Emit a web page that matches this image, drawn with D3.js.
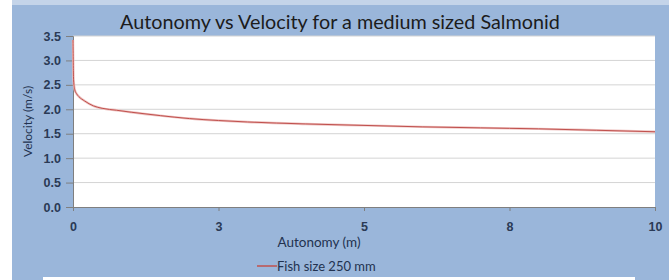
<!DOCTYPE html>
<html>
<head>
<meta charset="utf-8">
<script src="https://cdn.jsdelivr.net/npm/d3@7"></script>
<style>
  html, body { margin: 0; padding: 0; background: #ffffff; }
  svg { display: block; }
</style>
</head>
<body>
<svg></svg>
<script>
// autonomy (m) vs velocity (m/s)
const autonomy = [0, 0.01, 0.03, 0.06, 0.1, 0.2, 0.35, 0.5, 0.75, 1, 1.5, 2, 2.5, 3, 4, 5, 6, 7, 7.5, 8, 9, 10];
const velocity = [3.42, 2.6, 2.4, 2.32, 2.26, 2.17, 2.07, 2.02, 1.98, 1.94, 1.87, 1.81, 1.77, 1.74, 1.70, 1.67, 1.64, 1.62, 1.61, 1.60, 1.57, 1.54];
const xTicks = [0, 2.5, 5, 7.5, 10];
const xTickLabels = ["0", "3", "5", "8", "10"];
const yTicks = [0, 0.5, 1, 1.5, 2, 2.5, 3, 3.5];
const seriesName = "Fish size 250 mm";

const data = autonomy.map((a, i) => ({ x: a, y: velocity[i] }));

var svgWidth = 669,
    svgHeight = 280;
var plot = { left: 73, right: 655, top: 36, bottom: 207 };

var svg = d3.select("svg")
    .attr("width", svgWidth)
    .attr("height", svgHeight)
    .style("font-family", "Lato, 'Open Sans', sans-serif");

// backgrounds
svg.append("rect").attr("x", 0).attr("y", 0).attr("width", svgWidth).attr("height", svgHeight).attr("fill", "#ffffff");
svg.append("rect").attr("x", 12).attr("y", 0).attr("width", svgWidth - 12).attr("height", 5).attr("fill", "#c4d4e9");
svg.append("rect").attr("x", 12).attr("y", 5).attr("width", svgWidth - 12).attr("height", 272).attr("fill", "#9ab6da");
svg.append("rect").attr("x", 12).attr("y", 277).attr("width", 31).attr("height", 3).attr("fill", "#9ab6da");
svg.append("rect").attr("x", 635).attr("y", 277).attr("width", 34).attr("height", 3).attr("fill", "#9ab6da");

var x = d3.scaleLinear().domain([0, 10]).range([plot.left, plot.right]);
var y = d3.scaleLinear().domain([0, 3.5]).range([plot.bottom, plot.top]);

// plot area
svg.append("rect")
    .attr("x", plot.left).attr("y", plot.top)
    .attr("width", plot.right - plot.left).attr("height", plot.bottom - plot.top)
    .attr("fill", "#ffffff");

// gridlines
svg.append("g")
    .selectAll("line")
    .data(yTicks.filter(d => d > 0))
    .join("line")
    .attr("x1", plot.left).attr("x2", plot.right)
    .attr("y1", d => y(d)).attr("y2", d => y(d))
    .attr("stroke", "#d4d4d4")
    .attr("stroke-width", 1);

// y axis
var yAxis = svg.append("g")
    .attr("transform", "translate(" + plot.left + ",0)")
    .call(d3.axisLeft(y).tickValues(yTicks).tickFormat(d3.format(".1f")).tickSize(7).tickPadding(5));
yAxis.select(".domain").attr("stroke", "#7f7f7f");
yAxis.selectAll(".tick line").attr("stroke", "#7f7f7f");
yAxis.selectAll(".tick text")
    .attr("fill", "#2a3a55")
    .style("font-size", "12.5px")
    .style("font-weight", "bold");

// x axis
var xAxis = svg.append("g")
    .attr("transform", "translate(0," + plot.bottom + ")")
    .call(d3.axisBottom(x).tickValues(xTicks).tickFormat((d, i) => xTickLabels[i]).tickSizeOuter(0).tickSize(4).tickPadding(11));
xAxis.select(".domain").attr("stroke", "#7f7f7f");
xAxis.selectAll(".tick line").attr("stroke", "#7f7f7f");
xAxis.selectAll(".tick text")
    .attr("fill", "#2a3a55")
    .style("font-size", "12.5px")
    .style("font-weight", "bold");

// series line
var line = d3.line()
    .x(d => x(d.x))
    .y(d => y(d.y))
    .curve(d3.curveMonotoneX);

svg.append("path")
    .datum(data)
    .attr("fill", "none")
    .attr("stroke", "#eec3c1")
    .attr("stroke-width", 2.4)
    .attr("d", line);
svg.append("path")
    .datum(data)
    .attr("fill", "none")
    .attr("stroke", "#c0504d")
    .attr("stroke-width", 1)
    .attr("d", line);

// titles
svg.append("text")
    .attr("x", 340).attr("y", 29)
    .attr("text-anchor", "middle")
    .attr("fill", "#1c1c1c")
    .style("font-size", "19.8px")
    .text("Autonomy vs Velocity for a medium sized Salmonid");

svg.append("text")
    .attr("x", 319).attr("y", 247)
    .attr("text-anchor", "middle")
    .attr("fill", "#22324f")
    .style("font-size", "13.5px")
    .text("Autonomy (m)");

svg.append("text")
    .attr("transform", "translate(32," + (plot.top + plot.bottom) / 2 + ") rotate(-90)")
    .attr("text-anchor", "middle")
    .attr("fill", "#22324f")
    .style("font-size", "12px")
    .text("Velocity (m/s)");

// legend
var legend = svg.append("g").attr("transform", "translate(257,266)");
legend.append("line")
    .attr("x1", 0).attr("x2", 20).attr("y1", 0).attr("y2", 0)
    .attr("stroke", "#c0504d").attr("stroke-width", 1.5);
legend.append("text")
    .attr("x", 20).attr("y", 4.5)
    .attr("fill", "#22324f")
    .style("font-size", "13px")
    .text(seriesName);
</script>
</body>
</html>
